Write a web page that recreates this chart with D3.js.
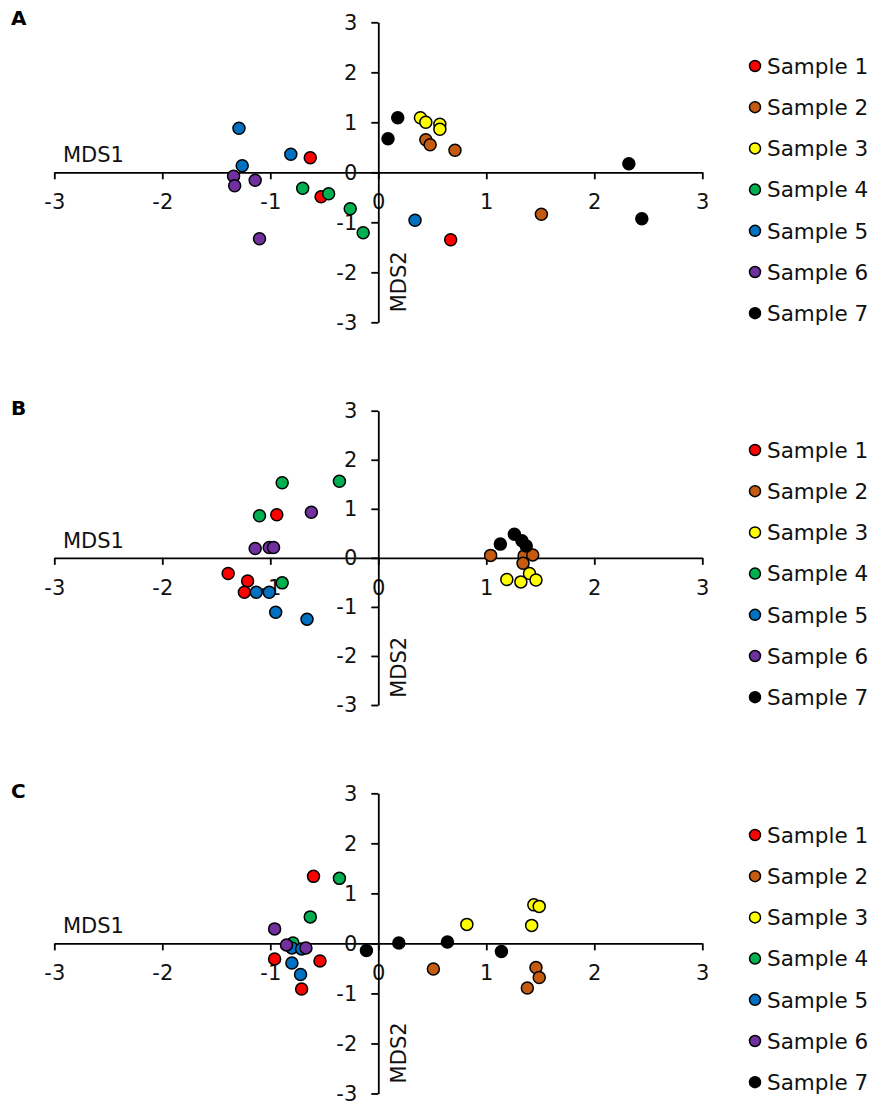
<!DOCTYPE html>
<html>
<head>
<meta charset="utf-8">
<script src="https://cdn.jsdelivr.net/npm/d3@7"></script>
<style>
  html, body { margin: 0; padding: 0; background: #fff; }
  svg { display: block; }
  text { font-family: "DejaVu Sans", Verdana, sans-serif; fill: #111; }
</style>
</head>
<body>
<svg id="chart" width="874" height="1104"></svg>
<script>
// ---- data ----
const sampleNames = ["Sample 1","Sample 2","Sample 3","Sample 4","Sample 5","Sample 6","Sample 7"];
const sampleColors = ["#FF0000","#C55A11","#FFFF00","#00B050","#0070C0","#7030A0","#000000"];
const tickValues = [-3,-2,-1,0,1,2,3];
const panelLetters = ["A","B","C"];

// each entry: [sampleIndex, MDS1, MDS2]
const panelA = [
  [0,-0.63,0.29],[0,-0.53,-0.49],[0,0.67,-1.35],
  [1,0.44,0.65],[1,0.48,0.55],[1,0.71,0.44],[1,1.51,-0.84],
  [2,0.39,1.09],[2,0.44,1.00],[2,0.57,0.96],[2,0.57,0.86],
  [3,-0.70,-0.32],[3,-0.46,-0.43],[3,-0.26,-0.73],[3,-0.14,-1.21],
  [4,-1.29,0.88],[4,-1.26,0.13],[4,-0.81,0.36],[4,0.34,-0.96],
  [5,-1.34,-0.08],[5,-1.33,-0.27],[5,-1.14,-0.16],[5,-1.10,-1.33],
  [6,0.09,0.67],[6,0.18,1.09],[6,2.32,0.17],[6,2.44,-0.93]
];
const panelB = [
  [0,-0.94,0.88],[0,-1.39,-0.32],[0,-1.21,-0.47],[0,-1.24,-0.70],
  [1,1.04,0.05],[1,1.35,0.04],[1,1.43,0.06],[1,1.34,-0.11],
  [2,1.19,-0.44],[2,1.40,-0.32],[2,1.32,-0.49],[2,1.46,-0.45],
  [3,-0.89,1.53],[3,-0.36,1.56],[3,-1.10,0.86],[3,-0.89,-0.51],
  [4,-1.13,-0.70],[4,-1.01,-0.70],[4,-0.95,-1.11],[4,-0.66,-1.25],
  [5,-0.62,0.93],[5,-1.14,0.19],[5,-1.01,0.21],[5,-0.97,0.21],
  [6,1.13,0.28],[6,1.26,0.48],[6,1.33,0.35],[6,1.37,0.24]
];
const panelC = [
  [0,-0.60,1.34],[0,-0.96,-0.31],[0,-0.54,-0.35],[0,-0.71,-0.91],
  [1,0.51,-0.51],[1,1.46,-0.48],[1,1.49,-0.68],[1,1.38,-0.89],
  [2,0.82,0.38],[2,1.42,0.36],[2,1.44,0.77],[2,1.49,0.74],
  [3,-0.36,1.30],[3,-0.63,0.53],[3,-0.79,0.01],
  [4,-0.80,-0.09],[4,-0.71,-0.11],[4,-0.80,-0.39],[4,-0.72,-0.62],
  [5,-0.96,0.29],[5,-0.85,-0.03],[5,-0.67,-0.09],
  [6,-0.11,-0.14],[6,0.19,0.01],[6,0.64,0.03],[6,1.14,-0.16]
];
const panelData = [panelA, panelB, panelC];

// ---- layout ----
const layouts = [
  { top: 22.3, bottom: 322.3, letterY: 25, legendTop: 66 },
  { top: 410.7, bottom: 705, letterY: 415, legendTop: 450 },
  { top: 793.3, bottom: 1093.5, letterY: 798, legendTop: 835 }
];
const xLeft = 54.3, xRight = 702.3;
const fs = 21;

const svg = d3.select("#chart");
const x = d3.scaleLinear().domain([-3, 3]).range([xLeft, xRight]);

panelData.forEach((pts, pi) => {
  const L = layouts[pi];
  const y = d3.scaleLinear().domain([-3, 3]).range([L.bottom, L.top]);
  const g = svg.append("g");
  const y0 = y(0), x0 = x(0);

  // panel letter
  g.append("text").attr("x", 11).attr("y", L.letterY)
    .attr("font-size", 20).attr("font-weight", "bold").style("fill", "#000")
    .text(panelLetters[pi]);

  // x axis
  const xa = g.append("g").attr("transform", `translate(0,${y0})`)
    .call(d3.axisBottom(x).tickValues(tickValues).tickSize(7).tickSizeOuter(0).tickPadding(15).tickFormat(d3.format("d")));
  // y axis
  const ya = g.append("g").attr("transform", `translate(${x0},0)`)
    .call(d3.axisLeft(y).tickValues(tickValues).tickSize(7).tickSizeOuter(0).tickPadding(14).tickFormat(d3.format("d")));
  [xa, ya].forEach(a => {
    a.select(".domain").attr("stroke", "#000").attr("stroke-width", 1.8);
    a.selectAll(".tick line").attr("stroke", "#000").attr("stroke-width", 1.8);
    a.selectAll(".tick text").attr("font-size", fs).attr("font-family", "DejaVu Sans, Verdana, sans-serif").style("fill", "#111");
  });
  // plain hyphen minus like the original
  g.selectAll(".tick text").text(d => String(d));

  // axis titles
  g.append("text").attr("x", 63).attr("y", y0 - 10).attr("font-size", fs).text("MDS1");
  g.append("text").attr("transform", `translate(${x0 + 28},${y0 + 140}) rotate(-90)`)
    .attr("font-size", fs).text("MDS2");

  // points (drawn in series order)
  const sorted = pts.slice().sort((a, b) => a[0] - b[0]);
  g.append("g").selectAll("circle").data(sorted).join("circle")
    .attr("cx", d => x(d[1])).attr("cy", d => y(d[2])).attr("r", 6)
    .attr("fill", d => sampleColors[d[0]]).attr("stroke", "#000").attr("stroke-width", 1.5);

  // legend
  const lg = g.append("g");
  const rowH = 41.2;
  sampleNames.forEach((name, i) => {
    const cy = L.legendTop + i * rowH;
    lg.append("circle").attr("cx", 755).attr("cy", cy).attr("r", 5.5)
      .attr("fill", sampleColors[i]).attr("stroke", "#000").attr("stroke-width", 1.5);
    lg.append("text").attr("x", 767).attr("y", cy).attr("dy", "0.36em")
      .attr("font-size", fs + 0.5).text(name);
  });
});
</script>
</body>
</html>
